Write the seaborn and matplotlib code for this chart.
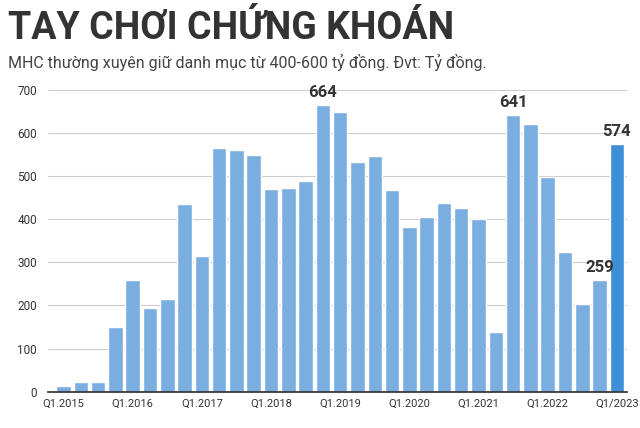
import matplotlib
matplotlib.use("Agg")
import matplotlib.pyplot as plt
import seaborn as sns
import pandas as pd

quarters = [f"Q{q}.{y}" for y in range(2015, 2023) for q in range(1, 5)] + ["Q1/2023"]
values = [14, 22, 22, 150, 260, 195, 215, 435, 315, 565, 560, 550, 470, 473, 488, 664,
          648, 533, 547, 468, 383, 406, 438, 425, 400, 138, 641, 620, 498, 325, 203, 259, 574]
labeled = {15: "664", 26: "641", 31: "259", 32: "574"}
tick_labels = ["Q1.2015", "Q1.2016", "Q1.2017", "Q1.2018", "Q1.2019", "Q1.2020", "Q1.2021", "Q1.2022", "Q1/2023"]

sns.set_theme(style="white")
plt.rcParams['font.family'] = ['Roboto', 'DejaVu Sans']
df = pd.DataFrame({"q": quarters, "v": values})
colors = ["#7aaee0"] * (len(values) - 1) + ["#3f8fd6"]

fig = plt.figure(figsize=(6.4, 4.28), dpi=100)
ax = fig.add_axes([0.075, 0.085, 0.905, 0.705])
sns.barplot(data=df, x="q", y="v", hue="q", palette=colors, legend=False, width=0.84, ax=ax, saturation=1)
ax.set_ylim(0, 700)
ax.set_xlim(-0.9, len(values) - 0.4)
ax.set_yticks(range(0, 701, 100))
ax.yaxis.grid(True, color="#cccccc", lw=0.8)
ax.set_axisbelow(True)
ax.set_xticks([i for i, q in enumerate(quarters) if q in tick_labels])
ax.set_xticklabels(tick_labels, fontsize=8, color="#333333")
ax.tick_params(axis="y", labelsize=8.5, colors="#333333", length=0, pad=8)
ax.tick_params(axis="x", length=0, pad=5)
ax.set_xlabel(""); ax.set_ylabel("")
for s in ["top", "right", "left"]:
    ax.spines[s].set_visible(False)
ax.spines["bottom"].set_color("#333333")
for i, t in labeled.items():
    ax.text(i, values[i] + 12, t, ha="center", va="bottom", fontsize=12, fontweight="bold", color="#333333")
fig.text(0.012, 0.91, "TAY CHƠI CHỨNG KHOÁN", fontsize=27, fontweight="bold", color="#333333")
fig.text(0.012, 0.84, "MHC thường xuyên giữ danh mục từ 400-600 tỷ đồng. Đvt: Tỷ đồng.", fontsize=11.5, color="#444444")
fig.savefig("out.png", dpi=100)
